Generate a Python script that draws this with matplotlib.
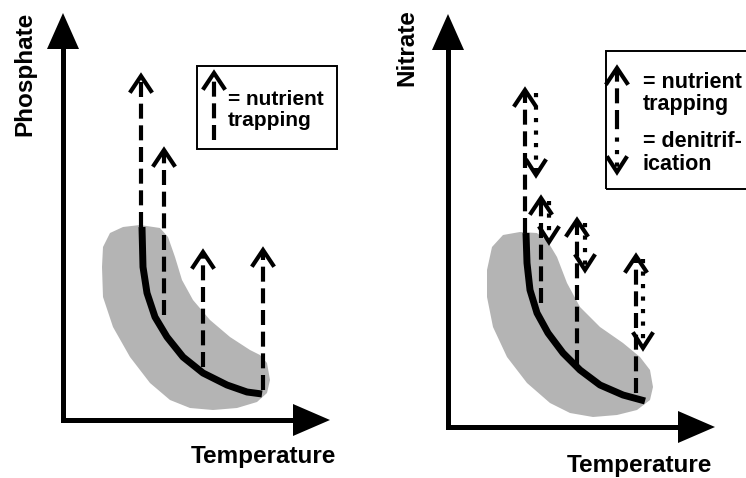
import matplotlib
matplotlib.use("Agg")
import matplotlib.pyplot as plt
from matplotlib.patches import Polygon, Rectangle

plt.rcParams['font.family'] = ['Liberation Sans', 'DejaVu Sans']

# schematic units: 1 unit = 1 px, origin at the corner of each panel's axes
# ---- left panel: phosphate ----
p_curve_t = [79, 80, 84, 92, 104, 120, 140, 164, 184, 199]
p_curve_n = [193, 153, 127, 103, 83, 63, 47, 35, 28, 26]
p_blob_t = [47, 60, 77, 97, 105, 112, 119, 130, 147, 167, 187, 197, 204, 207,
            204, 194, 174, 150, 127, 107, 87, 67, 50, 40, 39, 40]
p_blob_n = [187, 193, 195, 192, 183, 163, 140, 120, 100, 83, 70, 65, 57, 40,
            27, 18, 12, 10, 12, 20, 37, 63, 93, 123, 153, 173]
p_trap_t = [78, 101, 140, 200]
p_trap_base = [193, 105, 53, 30]
p_trap_tip = [344, 270, 168, 170]

# ---- right panel: nitrate ----
n_curve_t = [78, 79, 82, 89, 100, 115, 132, 152, 175, 197]
n_curve_n = [194, 164, 137, 114, 94, 74, 57, 42, 32, 26]
n_blob_t = [55, 72, 89, 100, 109, 119, 132, 152, 175, 192, 202, 205, 202, 189,
            169, 145, 122, 102, 79, 59, 45, 39, 39, 44]
n_blob_n = [192, 195, 194, 185, 170, 144, 120, 100, 84, 70, 57, 40, 27, 17,
            12, 10, 14, 24, 44, 70, 100, 130, 157, 180]
n_trap_t = [77, 93, 129, 188]
n_trap_base = [194, 124, 62, 34]
n_trap_tip = [337, 229, 207, 171]
n_denit_t = [88, 101, 137, 195]
n_denit_top = [334, 226, 204, 168]
n_denit_bottom = [252, 185, 157, 79]

GREY = '#b4b4b4'
DASH = (3.6, 1.6)
DOT = (1, 2)


def up_arrow(ax, x, y0, y1, lw=3.0):
    ax.plot([x, x], [y0, y1 - 2], color='black', lw=lw, dashes=DASH,
            solid_capstyle='butt', dash_capstyle='butt')
    ax.plot([x - 10, x, x + 10], [y1 - 15, y1, y1 - 15], color='black', lw=lw,
            solid_joinstyle='miter')


def down_arrow(ax, x, y0, y1, lw=3.0):
    ax.plot([x, x], [y0, y1 + 2], color='black', lw=lw, dashes=DOT,
            dash_capstyle='butt')
    ax.plot([x - 9, x, x + 9], [y1 + 14, y1, y1 + 14], color='black', lw=lw,
            solid_joinstyle='miter')


def axes_arrows(ax, ytip, xtip):
    ax.plot([0, 0, xtip - 37], [ytip - 35, 0, 0], color='black', lw=3.6,
            solid_joinstyle='miter', solid_capstyle='projecting')
    ax.add_patch(Polygon([[-16, ytip - 36], [0, ytip], [16, ytip - 36]],
                         closed=True, color='black', lw=0))
    ax.add_patch(Polygon([[xtip - 37, -16], [xtip, 0], [xtip - 37, 16]],
                         closed=True, color='black', lw=0))


fig = plt.figure(figsize=(7.46, 4.78), dpi=100)
ax1 = fig.add_axes([0, 0, 0.5, 1])
ax2 = fig.add_axes([0.5, 0, 0.5, 1])
ax1.set_xlim(-63, 310)
ax1.set_ylim(-58, 420)
ax2.set_xlim(-75, 298)
ax2.set_ylim(-51, 427)
for ax in (ax1, ax2):
    ax.axis('off')

# left panel
ax1.add_patch(Polygon(list(zip(p_blob_t, p_blob_n)), closed=True,
                      facecolor=GREY, edgecolor='none'))
ax1.plot(p_curve_t, p_curve_n, color='black', lw=5, solid_capstyle='butt')
for x, b, t in zip(p_trap_t, p_trap_base, p_trap_tip):
    up_arrow(ax1, x, b, t)
axes_arrows(ax1, 407, 267)
ax1.text(-38, 346, 'Phosphate', rotation=90, ha='center', va='center',
         fontsize=17.5, fontweight='bold')
ax1.text(200, -43, 'Temperature', ha='center', va='baseline',
         fontsize=17.5, fontweight='bold')
ax1.add_patch(Rectangle((134, 271), 140, 83, fill=False, edgecolor='black', lw=1.4))
up_arrow(ax1, 151, 280, 347)
ax1.text(165, 315, '= nutrient', ha='left', va='baseline', fontsize=15, fontweight='bold')
ax1.text(165, 294, 'trapping', ha='left', va='baseline', fontsize=15, fontweight='bold')

# right panel
ax2.add_patch(Polygon(list(zip(n_blob_t, n_blob_n)), closed=True,
                      facecolor=GREY, edgecolor='none'))
ax2.plot(n_curve_t, n_curve_n, color='black', lw=5, solid_capstyle='butt')
for x, b, t in zip(n_trap_t, n_trap_base, n_trap_tip):
    up_arrow(ax2, x, b, t)
for x, t, b in zip(n_denit_t, n_denit_top, n_denit_bottom):
    down_arrow(ax2, x, t, b)
axes_arrows(ax2, 413, 267)
ax2.text(-41, 379, 'Nitrate', rotation=90, ha='center', va='center',
         fontsize=17.5, fontweight='bold')
ax2.text(191, -45, 'Temperature', ha='center', va='baseline',
         fontsize=17.5, fontweight='bold')
ax2.add_patch(Rectangle((158, 238), 170, 138, fill=False, edgecolor='black',
                        lw=1.4, clip_on=False))
up_arrow(ax2, 169, 302, 359)
down_arrow(ax2, 169, 302, 255)
ax2.text(195, 339, '= nutrient', ha='left', va='baseline', fontsize=15.5, fontweight='bold')
ax2.text(195, 317, 'trapping', ha='left', va='baseline', fontsize=15.5, fontweight='bold')
ax2.text(195, 280, '= denitrif-', ha='left', va='baseline', fontsize=15.5, fontweight='bold')
ax2.text(195, 257, 'ication', ha='left', va='baseline', fontsize=15.5, fontweight='bold')

fig.savefig('out.png', dpi=100)
